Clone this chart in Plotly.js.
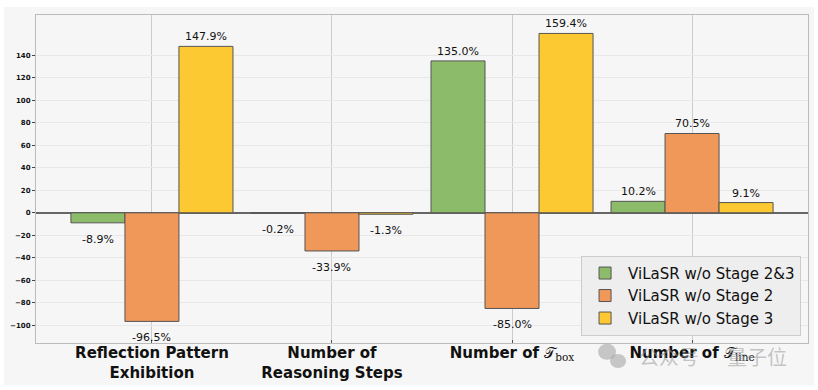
<!DOCTYPE html>
<html>
<head>
<meta charset="utf-8">
<script src="https://cdn.plot.ly/plotly-3.0.1.min.js"></script>
<style>html,body{margin:0;padding:0;background:#fff;}#chart{width:818px;height:390px;}</style>
</head>
<body>
<div id="chart"></div>
<script>
var categories = [
  "Reflection Pattern<br>Exhibition",
  "Number of<br>Reasoning Steps",
  "Number of <span style=\"font-family:'DejaVu Serif';font-weight:normal\">𝒯<sub>box</sub></span>",
  "Number of <span style=\"font-family:'DejaVu Serif';font-weight:normal\">𝒯<sub>line</sub></span>"
];
var seriesNames = ["ViLaSR w/o Stage 2&3", "ViLaSR w/o Stage 2", "ViLaSR w/o Stage 3"];
var noStage23 = [-8.9, -0.2, 135.0, 10.2];
var noStage2 = [-96.5, -33.9, -85.0, 70.5];
var noStage3 = [147.9, -1.3, 159.4, 9.1];
var yTicks = [-100, -80, -60, -40, -20, 0, 20, 40, 60, 80, 100, 120, 140];

var colors = ["#8cbb69", "#f0975a", "#fdc932"];
var series = [noStage23, noStage2, noStage3];
var offsets = [-0.3, 0, 0.3];
var idx = categories.map(function (_, i) { return i; });

var traces = series.map(function (vals, j) {
  return {
    type: "bar",
    name: seriesNames[j],
    x: idx,
    y: vals,
    marker: { color: colors[j], line: { color: "#555555", width: 1 } },
    hoverinfo: "y"
  };
});

var annotations = [];
series.forEach(function (vals, j) {
  vals.forEach(function (v, i) {
    annotations.push({
      x: i + offsets[j], y: v, xref: "x", yref: "y",
      text: v.toFixed(1) + "%",
      showarrow: false,
      yanchor: v >= 0 ? "bottom" : "top",
      yshift: v >= 0 ? 1 : -8,
      font: { family: "DejaVu Sans", size: 11, color: "#111" }
    });
  });
});
annotations.push({
  xref: "paper", yref: "paper", x: 0.778, y: -0.04, xanchor: "left", yanchor: "middle",
  text: "公众号", showarrow: false,
  font: { family: "Noto Sans CJK SC", size: 20, color: "rgba(150,150,150,0.55)" }
});
annotations.push({
  xref: "paper", yref: "paper", x: 0.893, y: -0.04, xanchor: "left", yanchor: "middle",
  text: "量子位", showarrow: false,
  font: { family: "Noto Sans CJK SC", size: 20, color: "rgba(150,150,150,0.55)" }
});

var layout = {
  width: 818, height: 390,
  margin: { l: 36, r: 10, t: 15, b: 47 },
  paper_bgcolor: "#ffffff",
  plot_bgcolor: "#f6f6f6",
  barmode: "group",
  bargap: 0.1,
  bargroupgap: 0,
  showlegend: true,
  legend: {
    x: 0.991, y: 0.022, xanchor: "right", yanchor: "bottom",
    bgcolor: "#eeeeee", bordercolor: "#cccccc", borderwidth: 1,
    font: { family: "DejaVu Sans", size: 15, color: "#111" },
    itemwidth: 36
  },
  xaxis: {
    type: "linear",
    range: [-0.644, 3.644],
    tickvals: idx,
    ticktext: categories,
    tickfont: { family: "DejaVu Sans", size: 15, color: "#111", weight: "bold" },
    showgrid: true, gridcolor: "#cccccc", gridwidth: 1,
    zeroline: false,
    showline: true, linecolor: "#bbbbbb", linewidth: 1, mirror: true,
    ticks: "inside", ticklen: 3, tickcolor: "#555",
    ticklabelstandoff: -4
  },
  yaxis: {
    range: [-115.7, 175.8],
    tickvals: yTicks,
    tickfont: { family: "DejaVu Sans", size: 7, color: "#111", weight: "bold" },
    showgrid: true, gridcolor: "#e8e8e8", gridwidth: 1,
    zeroline: true, zerolinecolor: "#666666", zerolinewidth: 1.5,
    showline: true, linecolor: "#bbbbbb", linewidth: 1, mirror: true,
    ticks: "outside", ticklen: 3, tickcolor: "#444"
  },
  shapes: [{
    type: "rect", xref: "paper", yref: "paper", layer: "below",
    x0: -0.0415, x1: 1.0078, y0: -0.128, y1: 1.0244,
    fillcolor: "#f6f6f6", line: { width: 0 }
  }, {
    type: "circle", xref: "paper", yref: "paper", xsizemode: "pixel", ysizemode: "pixel",
    xanchor: 0.741, yanchor: -0.03, x0: -10, x1: 8, y0: -7, y1: 9,
    fillcolor: "rgba(150,150,150,0.5)", line: { width: 0 }, layer: "above"
  }, {
    type: "circle", xref: "paper", yref: "paper", xsizemode: "pixel", ysizemode: "pixel",
    xanchor: 0.754, yanchor: -0.055, x0: -8, x1: 8, y0: -7, y1: 7,
    fillcolor: "rgba(150,150,150,0.5)", line: { width: 0 }, layer: "above"
  }],
  annotations: annotations
};

Plotly.newPlot("chart", traces, layout, { displayModeBar: false, staticPlot: true });
</script>
</body>
</html>
